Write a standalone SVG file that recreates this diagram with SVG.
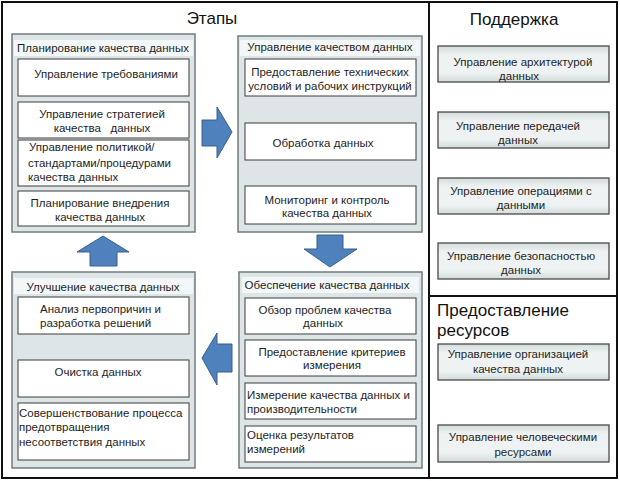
<svg xmlns="http://www.w3.org/2000/svg" width="620" height="481" viewBox="0 0 620 481">
<defs>
<linearGradient id="sup" x1="0" y1="0" x2="0" y2="1">
<stop offset="0" stop-color="#d3dcdc"/>
<stop offset="0.25" stop-color="#eef2f2"/>
<stop offset="0.75" stop-color="#eef2f2"/>
<stop offset="1" stop-color="#d3dcdc"/>
</linearGradient>
</defs>
<style>
text{font-family:"Liberation Sans",Arial,sans-serif;font-size:11.5px;fill:#1e1e1e}
.c{text-anchor:middle}
.title{font-size:17px;fill:#111}
.grp{fill:#dde5e6;stroke:#707c7c;stroke-width:1.5}
.hdr{fill:#f4f7f7;stroke:none}
.box{fill:#ffffff;stroke:#3c3c3c;stroke-width:1}
.sbox{fill:url(#sup);stroke:#4a4a4a;stroke-width:1.3}
.arr{fill:#4f81bd;stroke:#3a5f8c;stroke-width:1}
.frame{fill:#fff;stroke:#111;stroke-width:2}
.div{stroke:#111;stroke-width:2}
</style>
<rect class="frame" x="2" y="2" width="615" height="476"/>
<line class="div" x1="429" y1="2" x2="429" y2="478"/>
<line class="div" x1="429" y1="296" x2="617" y2="296"/>
<text class="title c" x="212" y="24">Этапы</text>
<text class="title c" x="514" y="25">Поддержка</text>
<text class="title" x="437" y="316">Предоставление</text>
<text class="title" x="437" y="336">ресурсов</text>

<g id="planning">
<rect class="grp" x="12" y="34" width="183" height="198"/>
<rect class="hdr" x="14" y="40" width="179" height="16"/>
<text class="c" x="103" y="52">Планирование качества данных</text>
<rect class="box" x="18" y="59" width="171" height="37"/>
<text class="c" x="106" y="78">Управление требованиями</text>
<rect class="box" x="18" y="102" width="171" height="36"/>
<text class="c" x="102" y="118">Управление стратегией</text>
<text class="c" x="102" y="132" xml:space="preserve">качества   данных</text>
<rect class="box" x="18" y="140" width="171" height="46"/>
<text x="29" y="151">Управление политикой/</text>
<text x="28" y="167">стандартами/процедурами</text>
<text x="28" y="181">качества данных</text>
<rect class="box" x="18" y="191" width="171" height="35"/>
<text class="c" x="100" y="207">Планирование внедрения</text>
<text class="c" x="100" y="221">качества данных</text>
</g>

<g id="control">
<rect class="grp" x="238" y="36" width="184" height="196"/>
<rect class="hdr" x="240" y="40" width="180" height="16"/>
<text class="c" x="330" y="51">Управление качеством данных</text>
<rect class="box" x="245" y="59" width="171" height="37"/>
<text class="c" x="330" y="76">Предоставление технических</text>
<text class="c" x="330" y="90">условий и рабочих инструкций</text>
<rect class="box" x="245" y="123" width="171" height="37"/>
<text class="c" x="323" y="147">Обработка данных</text>
<rect class="box" x="245" y="186" width="171" height="38"/>
<text class="c" x="327" y="204">Мониторинг и контроль</text>
<text class="c" x="327" y="217">качества данных</text>
</g>

<g id="assurance">
<rect class="grp" x="239" y="272" width="183" height="196"/>
<rect class="hdr" x="242" y="277" width="177" height="16"/>
<text class="c" x="327" y="289">Обеспечение качества данных</text>
<rect class="box" x="245" y="298" width="171" height="36"/>
<text class="c" x="325" y="314">Обзор проблем качества</text>
<text class="c" x="323" y="327">данных</text>
<rect class="box" x="245" y="340" width="171" height="36"/>
<text class="c" x="332" y="356">Предоставление критериев</text>
<text class="c" x="332" y="369">измерения</text>
<rect class="box" x="245" y="383" width="171" height="36"/>
<text x="247" y="399">Измерение качества данных и</text>
<text x="247" y="413">производительности</text>
<rect class="box" x="245" y="426" width="171" height="36"/>
<text x="247" y="439">Оценка результатов</text>
<text x="247" y="453">измерений</text>
</g>

<g id="improvement">
<rect class="grp" x="12" y="272" width="183" height="196"/>
<rect class="hdr" x="14" y="278" width="179" height="16"/>
<text class="c" x="103" y="291">Улучшение качества данных</text>
<rect class="box" x="18" y="297" width="171" height="37"/>
<text x="40" y="313">Анализ первопричин и</text>
<text x="40" y="327">разработка решений</text>
<rect class="box" x="18" y="360" width="171" height="37"/>
<text class="c" x="98" y="376">Очистка данных</text>
<rect class="box" x="18" y="403" width="171" height="57"/>
<text x="19" y="417">Совершенствование процесса</text>
<text x="19" y="431">предотвращения</text>
<text x="19" y="446">несоответствия данных</text>
</g>

<g id="support">
<rect class="sbox" x="438" y="46" width="171" height="36"/>
<text class="c" x="523" y="66">Управление архитектурой</text>
<text class="c" x="519" y="80">данных</text>
<rect class="sbox" x="438" y="112" width="171" height="36"/>
<text class="c" x="518" y="130">Управление передачей</text>
<text class="c" x="518" y="144">данных</text>
<rect class="sbox" x="438" y="178" width="171" height="36"/>
<text class="c" x="521" y="195">Управление операциями с</text>
<text class="c" x="521" y="209">данными</text>
<rect class="sbox" x="438" y="243" width="171" height="36"/>
<text class="c" x="521" y="260">Управление безопасностью</text>
<text class="c" x="521" y="274">данных</text>
</g>

<g id="resources">
<rect class="sbox" x="438" y="344" width="171" height="36"/>
<text class="c" x="518" y="358">Управление организацией</text>
<text class="c" x="518" y="373">качества данных</text>
<rect class="sbox" x="438" y="425" width="171" height="37"/>
<text class="c" x="523" y="441">Управление человеческими</text>
<text class="c" x="523" y="456">ресурсами</text>
</g>

<g id="connectors">
<polygon class="arr" points="202,120 217,120 217,107 232,132 217,158 217,146 202,146"/>
<polygon class="arr" points="317,235 343,235 343,249 357,249 330,267 304,249 317,249"/>
<polygon class="arr" points="232,344 217,344 217,333 202,358 217,385 217,372 232,372"/>
<polygon class="arr" points="103,236 129,252 117,252 117,266 90,266 90,252 77,252"/>
</g>
</svg>
